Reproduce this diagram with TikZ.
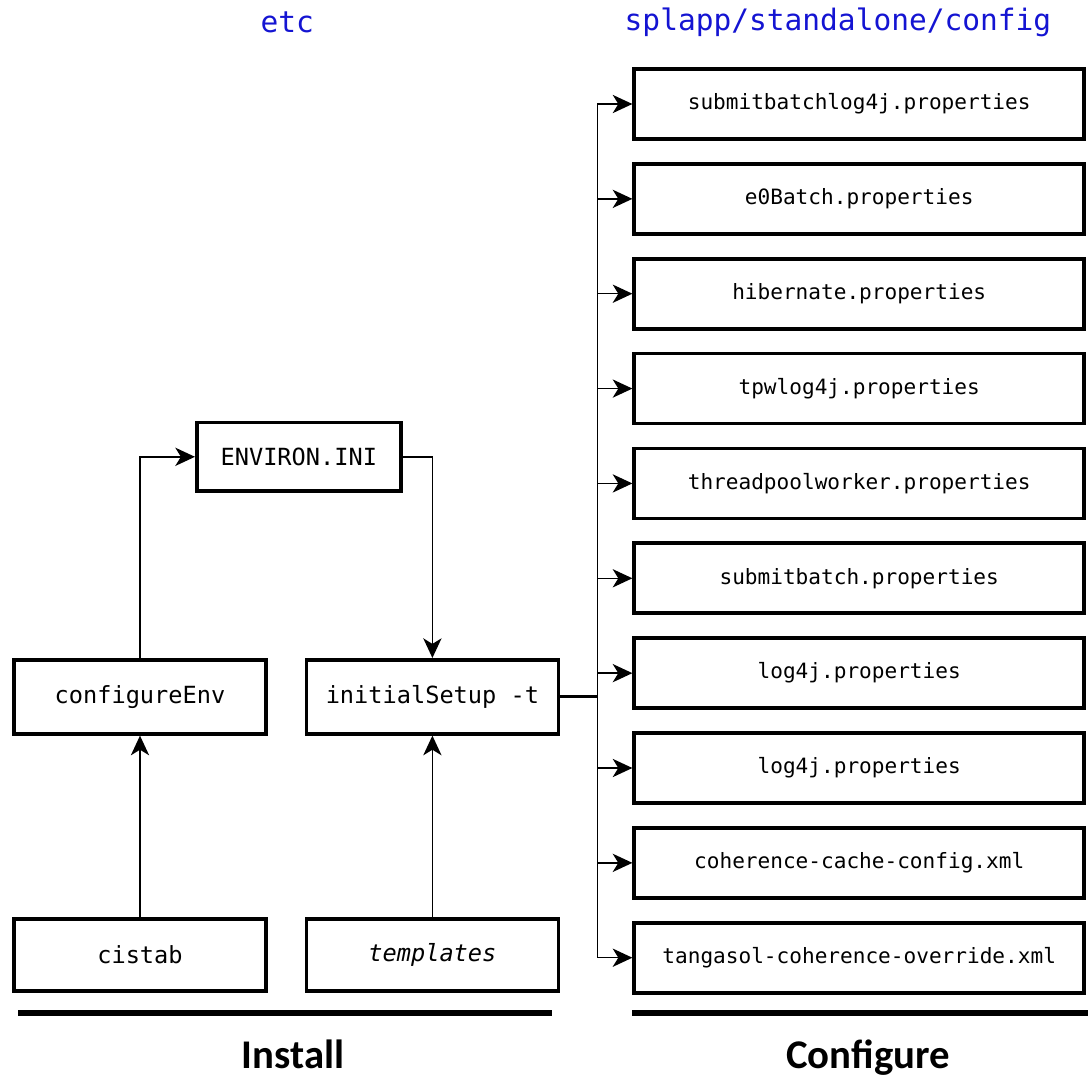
\documentclass[tikz,border=0pt]{standalone}
\usepackage{fontspec}
\usepackage{xcolor}
\usepackage{tikz}
\usetikzlibrary{positioning, arrows.meta}
\newfontfamily\boxfont{DejaVu Sans Mono}
\newfontfamily\labelfont{Carlito}
\definecolor{titleblue}{RGB}{20,20,210}

\begin{document}
\begin{tikzpicture}[
    filebox/.style={rectangle, draw, line width=2.6pt, align=center, minimum width=11.25cm, minimum height=1.75cm, font=\boxfont\fontsize{15}{18}\selectfont},
    stagebox/.style={rectangle, draw, line width=2.6pt, align=center, minimum width=6.3cm, minimum height=1.8cm, font=\boxfont\fontsize{16.8}{20}\selectfont},
    title/.style={text=titleblue, font=\boxfont\fontsize{21}{25}\selectfont},
    phase/.style={font=\labelfont\bfseries\fontsize{29}{33}\selectfont},
    arrow/.style={-{Stealth[length=14pt, width=13pt, inset=4pt]}, line width=1pt},
    bar/.style={line width=4.5pt}
]
\useasboundingbox (0,0) rectangle (27.2,-26.95);

% headings
\node[title] (etc) at (7.18,-0.55) {etc};
\node[title] (cfgdir) at (20.95,-0.55) {splapp/standalone/config};

% install side
\node[stagebox] (cistab) at (3.5,-23.87) {cistab};
\node[stagebox] (templates) at (10.81,-23.87) {\itshape templates};
\node[stagebox, minimum height=1.85cm] (configureenv) at (3.5,-17.42) {configureEnv};
\node[stagebox, minimum height=1.85cm] (initialsetup) at (10.81,-17.42) {initialSetup -t};
\node[stagebox, minimum width=5.1cm, minimum height=1.72cm] (environini) at (7.47,-11.42) {ENVIRON.INI};

% configure side
\node[filebox] (f1) at (21.48,-2.6) {submitbatchlog4j.properties};
\node[filebox, below=0.53cm of f1] (f2) {e0Batch.properties};
\node[filebox, below=0.53cm of f2] (f3) {hibernate.properties};
\node[filebox, below=0.53cm of f3] (f4) {tpwlog4j.properties};
\node[filebox, below=0.53cm of f4] (f5) {threadpoolworker.properties};
\node[filebox, below=0.53cm of f5] (f6) {submitbatch.properties};
\node[filebox, below=0.53cm of f6] (f7) {log4j.properties};
\node[filebox, below=0.53cm of f7] (f8) {log4j.properties};
\node[filebox, below=0.53cm of f8] (f9) {coherence-cache-config.xml};
\node[filebox, below=0.53cm of f9] (f10) {tangasol-coherence-override.xml};

\coordinate (bus) at (14.93,-17.42);

% install flow
\draw[arrow] (cistab) -- (configureenv);
\draw[arrow] (templates) -- (initialsetup);
\draw[arrow] (configureenv.north) |- (environini.west);
\draw[arrow] (environini.east) -| (initialsetup.north);

% fan out to the config files
\draw[line width=2pt] (initialsetup.east) -- (bus);
\draw[line width=1pt] (bus |- f1) -- (bus |- f10);
\draw[arrow] (bus |- f1) -- (f1);
\draw[arrow] (bus |- f2) -- (f2);
\draw[arrow] (bus |- f3) -- (f3);
\draw[arrow] (bus |- f4) -- (f4);
\draw[arrow] (bus |- f5) -- (f5);
\draw[arrow] (bus |- f6) -- (f6);
\draw[arrow] (bus |- f7) -- (f7);
\draw[arrow] (bus |- f8) -- (f8);
\draw[arrow] (bus |- f9) -- (f9);
\draw[arrow] (bus |- f10) -- (f10);

% phases
\draw[bar] (0.45,-25.33) -- (13.8,-25.33);
\draw[bar] (15.8,-25.33) -- (27.2,-25.33);
\node[phase] (install) at (7.33,-26.35) {Install};
\node[phase] (configure) at (21.7,-26.45) {Configure};
\end{tikzpicture}
\end{document}
